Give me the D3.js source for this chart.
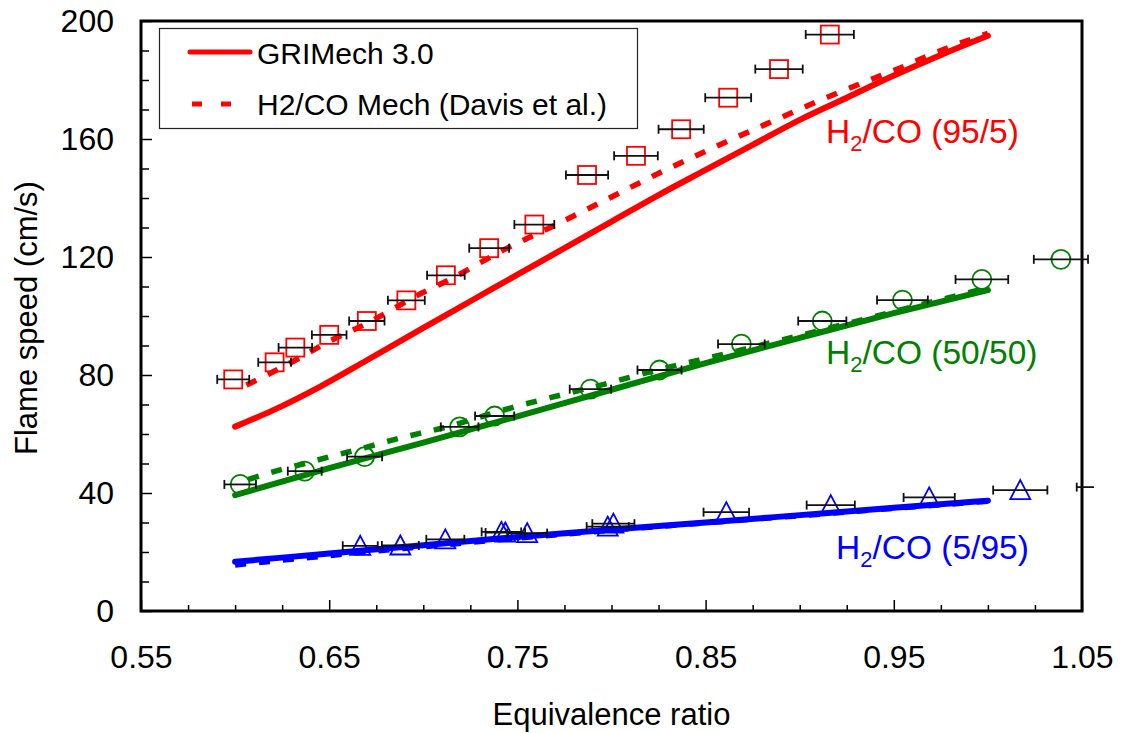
<!DOCTYPE html>
<html>
<head>
<meta charset="utf-8">
<script src="https://cdn.jsdelivr.net/npm/d3@7"></script>
<style>
  body { margin: 0; background: #fff; }
  text { font-family: "Liberation Sans", Arial, sans-serif; }
</style>
</head>
<body>
<div id="chart"></div>
<script>
// measured data, H2/CO mixtures: [phi, flame speed]
const expRed = [[0.599,78.5],[0.621,84.3],[0.632,89.3],[0.650,93.6],[0.670,98.3],[0.691,105.3],[0.712,113.8],
  [0.735,123.0],[0.759,131.0],[0.787,147.8],[0.813,154.3],[0.837,163.3],[0.862,174.0],[0.889,183.7],[0.916,195.4]];
const errRed = [0.0085,0.0087,0.0089,0.0092,0.0094,0.0098,0.0100,0.0106,0.0106,0.0112,0.0116,0.0120,0.0122,0.0126,0.0128];

const expGreen = [[0.6027,42.9],[0.637,47.4],[0.6688,52.3],[0.7193,62.4],[0.7379,66.1],[0.7888,75.2],[0.8255,81.7],
  [0.869,90.5],[0.912,98.3],[0.9546,105.4],[0.9968,112.4],[1.0388,119.2]];
const errGreen = [0.0084,0.0090,0.0093,0.0100,0.0104,0.0110,0.0117,0.0124,0.0128,0.0135,0.0140,0.0144];

const expBlue = [[0.6665,22.1],[0.6878,22.2],[0.7117,24.3],[0.7415,26.8],[0.7436,26.6],[0.7552,26.4],[0.798,28.6],
  [0.801,29.6],[0.861,33.5],[0.9165,35.9],[0.9688,38.5],[1.0172,41.0],[1.062,42.0]];
const errBlue = [0.0093,0.0098,0.0101,0.0105,0.0105,0.0106,0.0112,0.0112,0.0121,0.0128,0.0136,0.0144,0.0148];

// model curves
const griRed = [[0.600,62.5],[0.620,68],[0.645,76],[0.670,85],[0.700,96],[0.725,105],[0.750,114],[0.775,123],
  [0.800,132],[0.825,141],[0.850,149.5],[0.875,158],[0.900,166.5],[0.925,174],[0.950,181.5],[0.975,188.5],[1.000,195]];
const davisRed = [[0.606,76.6],[0.620,81],[0.634,85.7],[0.647,90.4],[0.670,97.5],[0.699,107.7],[0.7135,112.2],[0.7427,122.4],
  [0.770,130.8],[0.7986,139.9],[0.8287,149.5],[0.8553,157.4],[0.8837,165.5],[0.9112,173.2],[0.9395,180.6],[0.953,184],[0.975,190],[1.000,195.8]];
const griGreen = [[0.600,39.3],[0.650,48.4],[0.700,57.1],[0.750,66],[0.800,75],[0.850,84],[0.900,92.6],[0.950,101],[1.000,108.8]];
const davisGreen = [[0.607,44.6],[0.622,47.5],[0.637,50],[0.652,52.6],[0.667,55],[0.682,57.7],[0.698,60.2],[0.713,62.5],
  [0.732,66.1],[0.752,69.8],[0.768,72.4],[0.798,77.2],[0.8225,81.4],[0.853,86],[0.883,90.7],[0.899,93.2],[0.950,101.5],[1.000,109.6]];
const griBlue = [[0.600,16.7],[0.650,19.5],[0.700,22.3],[0.750,25.1],[0.800,27.6],[0.850,30],[0.900,32.5],[0.950,35],[1.000,37.4]];
const davisBlue = [[0.600,15.6],[0.650,18.8],[0.700,21.8],[0.750,24.7],[0.800,27.4],[0.850,29.9],[0.900,32.3],[0.950,34.8],[1.000,37.2]];

const xMajor = [0.55,0.65,0.75,0.85,0.95,1.05];
const xMinor = [0.575,0.6,0.625,0.675,0.7,0.725,0.775,0.8,0.825,0.875,0.9,0.925,0.975,1.0,1.025];
const yMajor = [0,40,80,120,160,200];
const yMinor = [10,20,30,50,60,70,90,100,110,130,140,150,170,180,190];

const margin = { top: 21, right: 43, bottom: 122, left: 141 };
const W = 1125, H = 733;
const width = W - margin.left - margin.right;
const height = H - margin.top - margin.bottom;

const svg = d3.select("#chart").append("svg")
    .attr("width", W)
    .attr("height", H);
const g = svg.append("g")
    .attr("transform", `translate(${margin.left},${margin.top})`);

const x = d3.scaleLinear().domain([0.55, 1.05]).range([0, width]);
const y = d3.scaleLinear().domain([0, 200]).range([height, 0]);

svg.append("defs").append("clipPath").attr("id", "errclip")
  .append("rect").attr("x", 0).attr("y", 0).attr("width", width + 12).attr("height", height);

// axes (ticks point inward)
g.append("g")
    .attr("transform", `translate(0,${height})`)
    .call(d3.axisBottom(x).tickValues(xMajor).tickSize(-11).tickPadding(34).tickFormat(d3.format(".2f")))
    .call(a => a.select(".domain").remove())
    .call(a => a.selectAll("line").attr("stroke", "#000").attr("stroke-width", 1.5))
    .call(a => a.selectAll("text").attr("font-size", 32).attr("fill", "#000")
        .attr("font-family", "Liberation Sans, Arial, sans-serif"));
g.append("g")
    .attr("transform", `translate(0,${height})`)
    .call(d3.axisBottom(x).tickValues(xMinor).tickSize(-6).tickFormat(""))
    .call(a => a.select(".domain").remove())
    .call(a => a.selectAll("line").attr("stroke", "#000").attr("stroke-width", 1.5));

g.append("g")
    .call(d3.axisLeft(y).tickValues(yMajor).tickSize(-11).tickPadding(27))
    .call(a => a.select(".domain").remove())
    .call(a => a.selectAll("line").attr("stroke", "#000").attr("stroke-width", 1.5))
    .call(a => a.selectAll("text").attr("font-size", 32).attr("fill", "#000")
        .attr("font-family", "Liberation Sans, Arial, sans-serif"));
g.append("g")
    .call(d3.axisLeft(y).tickValues(yMinor).tickSize(-8).tickFormat(""))
    .call(a => a.select(".domain").remove())
    .call(a => a.selectAll("line").attr("stroke", "#000").attr("stroke-width", 1.5));

// frame
g.append("rect")
    .attr("x", 0).attr("y", 0)
    .attr("width", width).attr("height", height)
    .attr("fill", "none")
    .attr("stroke", "#000")
    .attr("stroke-width", 3);

// axis titles
svg.append("text")
    .attr("x", margin.left + width / 2)
    .attr("y", 725)
    .attr("text-anchor", "middle")
    .attr("font-size", 31)
    .text("Equivalence ratio");
svg.append("text")
    .attr("transform", `translate(37,${margin.top + height / 2 + 2}) rotate(-90)`)
    .attr("text-anchor", "middle")
    .attr("font-size", 31)
    .text("Flame speed (cm/s)");

// model lines
const line = d3.line().x(d => x(d[0])).y(d => y(d[1])).curve(d3.curveMonotoneX);
const models = [
  { data: davisBlue, color: "#0000ff", dash: "11,13" },
  { data: griBlue, color: "#0000ff", dash: null },
  { data: davisGreen, color: "#008000", dash: "11,13" },
  { data: griGreen, color: "#008000", dash: null },
  { data: griRed, color: "#ff0000", dash: null },
  { data: davisRed, color: "#ff0000", dash: "11,13" }
];
models.forEach(m => {
  g.append("path")
    .datum(m.data)
    .attr("d", line)
    .attr("fill", "none")
    .attr("stroke", m.color)
    .attr("stroke-width", m.dash ? 5.5 : 6)
    .attr("stroke-linecap", m.dash ? "butt" : "round")
    .attr("stroke-dasharray", m.dash);
});

// markers
function drawMarkers(data, color, shape) {
  const pts = data.filter(d => d[0] <= 1.05);
  if (shape === "square") {
    g.selectAll(null).data(pts).enter().append("rect")
      .attr("x", d => x(d[0]) - 9).attr("y", d => y(d[1]) - 9)
      .attr("width", 18).attr("height", 18)
      .attr("fill", "none").attr("stroke", color).attr("stroke-width", 1.8);
  } else if (shape === "circle") {
    g.selectAll(null).data(pts).enter().append("circle")
      .attr("cx", d => x(d[0])).attr("cy", d => y(d[1])).attr("r", 9.5)
      .attr("fill", "none").attr("stroke", color).attr("stroke-width", 1.8);
  } else {
    g.selectAll(null).data(pts).enter().append("path")
      .attr("d", d => {
        const cx = x(d[0]), cy = y(d[1]);
        return `M${cx},${cy - 10}L${cx + 10},${cy + 9}L${cx - 10},${cy + 9}Z`;
      })
      .attr("fill", "none").attr("stroke", color).attr("stroke-width", 1.8);
  }
}
drawMarkers(expRed, "#ff0000", "square");
drawMarkers(expGreen, "#008000", "circle");
drawMarkers(expBlue, "#0000ff", "triangle");

// horizontal error bars
const eb = g.append("g").attr("clip-path", "url(#errclip)");
function drawErr(data, err) {
  data.forEach((d, i) => {
    const x0 = x(d[0] - err[i]), x1 = x(d[0] + err[i]), yy = y(d[1]);
    eb.append("line").attr("x1", x0).attr("x2", x1).attr("y1", yy).attr("y2", yy);
    eb.append("line").attr("x1", x0).attr("x2", x0).attr("y1", yy - 4.5).attr("y2", yy + 4.5);
    eb.append("line").attr("x1", x1).attr("x2", x1).attr("y1", yy - 4.5).attr("y2", yy + 4.5);
  });
}
drawErr(expRed, errRed);
drawErr(expGreen, errGreen);
drawErr(expBlue, errBlue);
eb.selectAll("line").attr("stroke", "#111").attr("stroke-width", 1.8);

// series labels with subscript
function label(xp, yp, color, rest) {
  const t = svg.append("text")
    .attr("x", xp).attr("y", yp)
    .attr("fill", color)
    .attr("font-size", 33.5);
  t.append("tspan").text("H");
  t.append("tspan").attr("font-size", 22).attr("dy", 8).text("2");
  t.append("tspan").attr("dy", -8).text(rest);
}
label(826, 143, "#ff0000", "/CO (95/5)");
label(826, 364, "#008000", "/CO (50/50)");
label(836, 559, "#0000ff", "/CO (5/95)");

// legend
const lg = svg.append("g");
lg.append("rect")
    .attr("x", 159.5).attr("y", 28.5)
    .attr("width", 478).attr("height", 100)
    .attr("fill", "#fff")
    .attr("stroke", "#222")
    .attr("stroke-width", 1.2);
lg.append("line")
    .attr("x1", 190).attr("x2", 250).attr("y1", 52).attr("y2", 52)
    .attr("stroke", "#ff0000").attr("stroke-width", 5).attr("stroke-linecap", "round");
lg.append("line")
    .attr("x1", 192).attr("x2", 250).attr("y1", 104).attr("y2", 104)
    .attr("stroke", "#ff0000").attr("stroke-width", 5).attr("stroke-dasharray", "10,19");
lg.append("text")
    .attr("x", 257).attr("y", 64)
    .attr("font-size", 30)
    .text("GRIMech 3.0");
lg.append("text")
    .attr("x", 257).attr("y", 115)
    .attr("font-size", 30)
    .text("H2/CO Mech (Davis et al.)");
</script>
</body>
</html>
